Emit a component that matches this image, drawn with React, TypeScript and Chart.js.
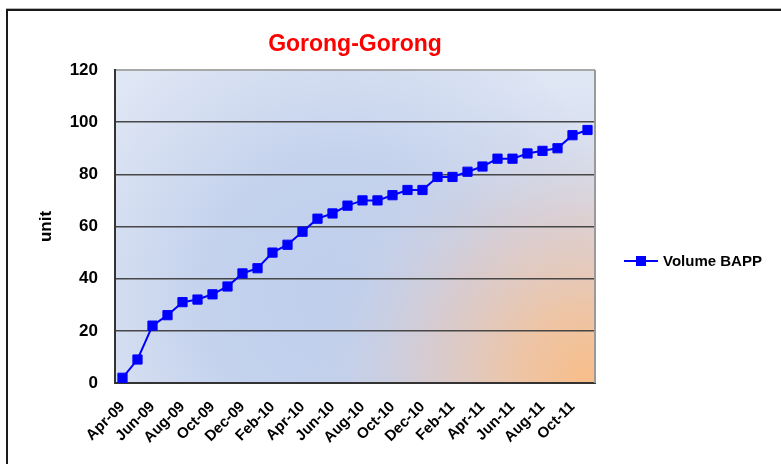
import { useEffect, useRef } from 'react';
import { Chart, registerables } from 'chart.js';

Chart.register(...registerables);

const chartTitle = 'Gorong-Gorong';
const seriesName = 'Volume BAPP';
const yAxisTitle = 'unit';

const months = [
  'Apr-09', 'May-09', 'Jun-09', 'Jul-09', 'Aug-09', 'Sep-09', 'Oct-09', 'Nov-09',
  'Dec-09', 'Jan-10', 'Feb-10', 'Mar-10', 'Apr-10', 'May-10', 'Jun-10', 'Jul-10',
  'Aug-10', 'Sep-10', 'Oct-10', 'Nov-10', 'Dec-10', 'Jan-11', 'Feb-11', 'Mar-11',
  'Apr-11', 'May-11', 'Jun-11', 'Jul-11', 'Aug-11', 'Sep-11', 'Oct-11', 'Nov-11',
];

const volumeBapp = [
  2, 9, 22, 26, 31, 32, 34, 37, 42, 44, 50, 53, 58, 63, 65, 68,
  70, 70, 72, 74, 74, 79, 79, 81, 83, 86, 86, 88, 89, 90, 95, 97,
];

const yMin = 0;
const yMax = 120;
const yStep = 20;

const FONT = "'Liberation Sans', Arial, Helvetica, sans-serif";

export default function App() {
  const ref = useRef<HTMLCanvasElement>(null);

  useEffect(() => {
    if (!ref.current) return;

    const decoPlugin = {
      id: 'deco',
      beforeDraw(chart: any) {
        const { ctx, chartArea: a, width, height } = chart;
        ctx.save();
        // outer frame
        ctx.strokeStyle = '#b4b4b4';
        ctx.lineWidth = 1;
        ctx.beginPath();
        ctx.moveTo(6, 8.5);
        ctx.lineTo(width + 2, 8.5);
        ctx.stroke();
        ctx.strokeStyle = '#1a1a1a';
        ctx.lineWidth = 2;
        ctx.beginPath();
        ctx.moveTo(7, height + 4);
        ctx.lineTo(7, 10);
        ctx.lineTo(width + 4, 10);
        ctx.stroke();

        // plot background
        const w = a.right - a.left;
        const h = a.bottom - a.top;
        ctx.fillStyle = '#dfe6f4';
        ctx.fillRect(a.left, a.top, w, h);
        const cx = a.left + w * 0.47;
        const cy = a.top + h * 0.72;
        const g1 = ctx.createRadialGradient(cx, cy, 0, cx, cy, w * 0.62);
        g1.addColorStop(0, 'rgba(190,206,236,1)');
        g1.addColorStop(0.45, 'rgba(196,210,237,1)');
        g1.addColorStop(1, 'rgba(223,230,244,1)');
        ctx.fillStyle = g1;
        ctx.fillRect(a.left, a.top, w, h);

        const ox = a.right - 8;
        const oy = a.bottom - 4;
        const g2 = ctx.createRadialGradient(ox, oy, 0, ox, oy, w * 0.62);
        g2.addColorStop(0, 'rgba(248,190,138,1)');
        g2.addColorStop(0.25, 'rgba(238,196,164,0.95)');
        g2.addColorStop(0.55, 'rgba(222,201,198,0.7)');
        g2.addColorStop(0.8, 'rgba(205,208,225,0.3)');
        g2.addColorStop(1, 'rgba(200,210,235,0)');
        ctx.fillStyle = g2;
        ctx.fillRect(a.left, a.top, w, h);
        ctx.restore();
      },
      beforeDatasetsDraw(chart: any) {
        const { ctx, chartArea: a } = chart;
        ctx.save();
        ctx.strokeStyle = '#9a9a9a';
        ctx.lineWidth = 2;
        ctx.beginPath();
        ctx.moveTo(a.right, a.top);
        ctx.lineTo(a.right, a.bottom);
        ctx.stroke();
        ctx.restore();
      },
      afterDraw(chart: any) {
        const { ctx, chartArea: a } = chart;
        const y = 261;
        const x0 = a.right + 29;
        ctx.save();
        ctx.strokeStyle = '#0000ff';
        ctx.lineWidth = 2;
        ctx.beginPath();
        ctx.moveTo(x0, y);
        ctx.lineTo(x0 + 34, y);
        ctx.stroke();
        ctx.fillStyle = '#0000ff';
        ctx.fillRect(x0 + 12, y - 5, 10, 10);
        ctx.fillStyle = '#000000';
        ctx.font = `bold 15px ${FONT}`;
        ctx.textBaseline = 'middle';
        ctx.textAlign = 'left';
        ctx.fillText(seriesName, x0 + 39, y + 1);
        ctx.restore();
      },
    };

    const chart = new Chart(ref.current, {
      type: 'line',
      data: {
        labels: months,
        datasets: [
          {
            label: seriesName,
            data: volumeBapp,
            borderColor: '#0000ff',
            backgroundColor: '#0000ff',
            borderWidth: 2,
            tension: 0,
            pointStyle: 'rect',
            pointRadius: 6.5,
            pointHoverRadius: 6.5,
            pointBackgroundColor: '#0000ff',
            pointBorderColor: '#0000ff',
            pointBorderWidth: 1,
          },
        ],
      },
      options: {
        responsive: false,
        animation: false,
        events: [],
        layout: { padding: { left: 30, right: 186, top: 10, bottom: 0 } },
        plugins: {
          legend: { display: false },
          tooltip: { enabled: false },
          title: {
            display: true,
            text: chartTitle,
            color: '#ff0000',
            fullSize: false,
            font: { family: FONT, size: 23, weight: 'bold' },
            padding: { top: 21, bottom: 11.4 },
          },
        },
        scales: {
          x: {
            type: 'category',
            offset: true,
            grid: { display: false, drawTicks: false },
            border: { display: true, color: '#333333', width: 2 },
            afterFit(scale: any) {
              scale.height = 81;
            },
            ticks: {
              autoSkip: false,
              minRotation: 45,
              maxRotation: 45,
              padding: 15,
              color: '#000000',
              font: { family: FONT, size: 15, weight: 'bold' },
              callback: (_v: any, i: number) => (i % 2 === 0 ? months[i] : ''),
            },
          },
          y: {
            min: yMin,
            max: yMax,
            afterFit(scale: any) {
              scale.width = 85;
            },
            grid: {
              drawTicks: false,
              color: (ctx: any) => (ctx.tick && ctx.tick.value === yMax ? '#a8a8a8' : '#474747'),
              lineWidth: (ctx: any) => (ctx.tick && ctx.tick.value === yMax ? 2 : 1.5),
            },
            border: { display: true, color: '#333333', width: 2 },
            title: {
              display: true,
              text: yAxisTitle,
              color: '#000000',
              font: { family: FONT, size: 17, weight: 'bold' },
              padding: { top: 6, bottom: 0 },
            },
            ticks: {
              stepSize: yStep,
              padding: 17,
              color: '#000000',
              font: { family: FONT, size: 17, weight: 'bold' },
            },
          },
        },
      },
      plugins: [decoPlugin],
    } as any);

    return () => chart.destroy();
  }, []);

  return (
    <div style={{ position: 'absolute', left: 0, top: 0, width: 781, height: 464, background: '#ffffff' }}>
      <canvas ref={ref} width={781} height={464} />
    </div>
  );
}
